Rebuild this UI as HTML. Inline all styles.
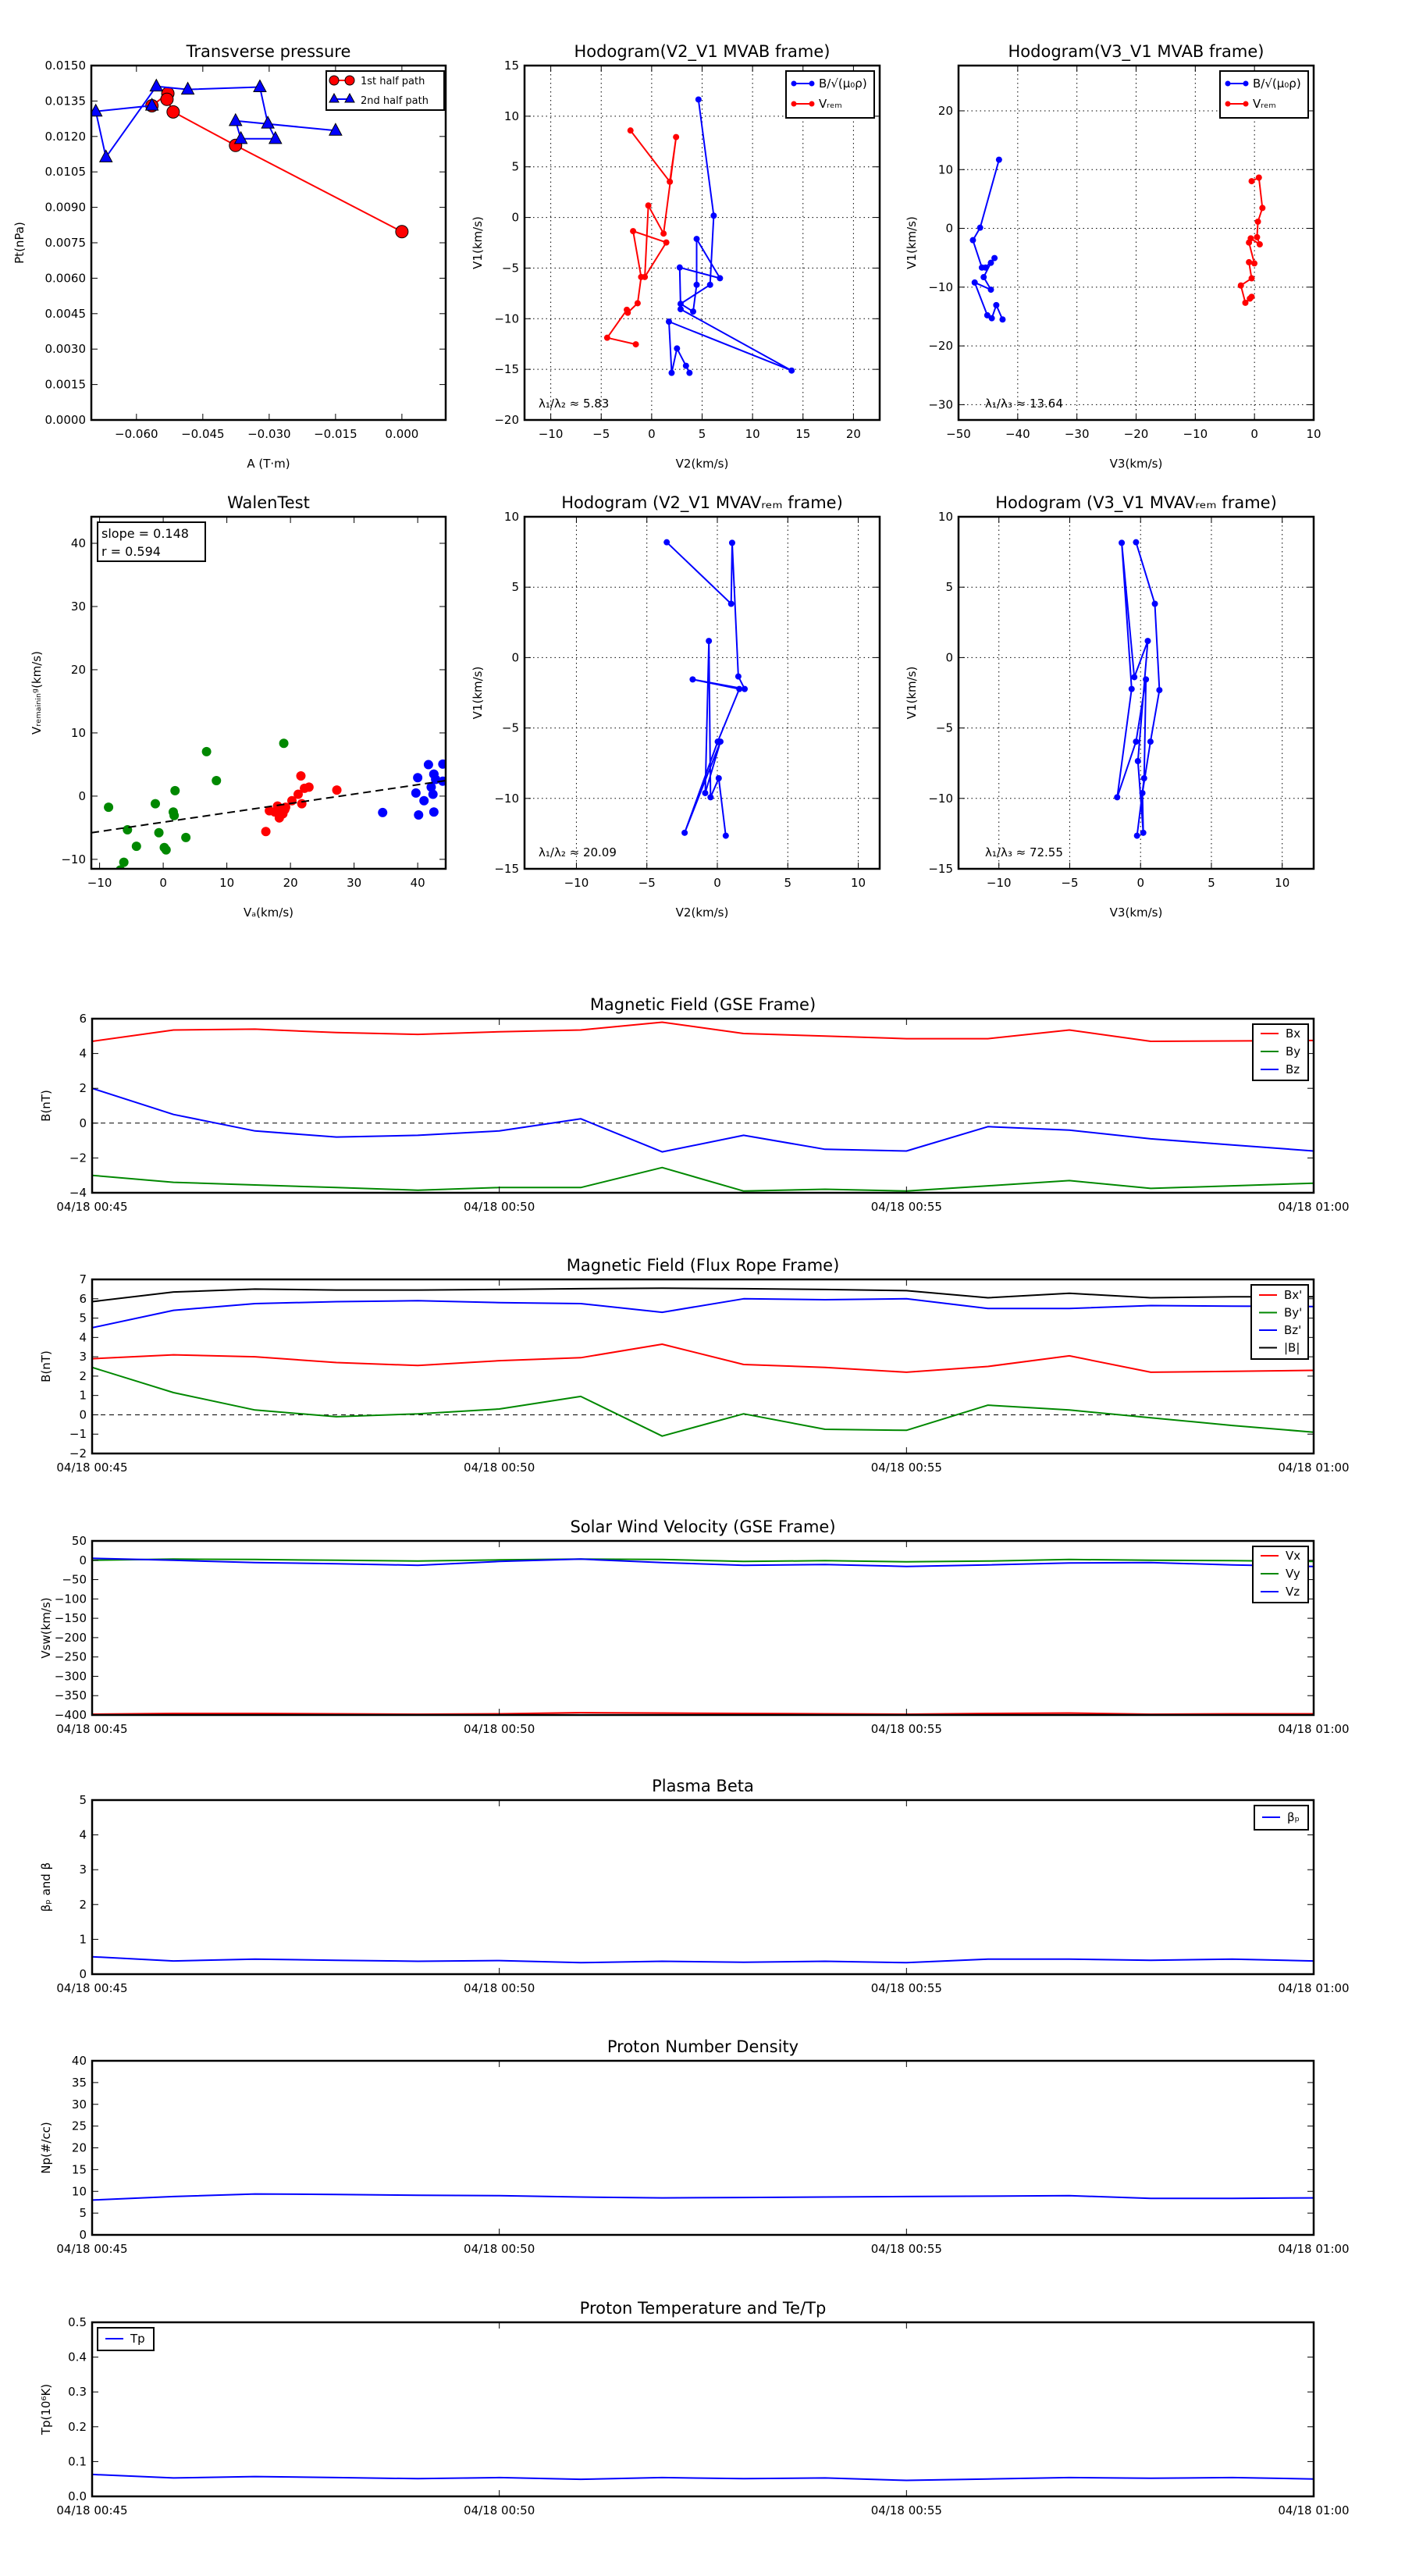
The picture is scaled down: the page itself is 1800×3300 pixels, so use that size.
<!DOCTYPE html>
<html><head><meta charset="utf-8"><title>Flux rope analysis</title>
<style>
html,body{margin:0;padding:0;background:#fff;}
svg{display:block;font-family:"DejaVu Sans","Liberation Sans",sans-serif;}
</style></head>
<body>
<svg id="fig" xmlns="http://www.w3.org/2000/svg" width="1800" height="3300" viewBox="0 0 1800 3300"></svg>
<script>
// ---------- Transverse pressure ----------
const tpRedA = [-0.0565,-0.0529,-0.0531,-0.0517,-0.0376,0.0];
const tpRedP = [0.0133,0.01382,0.01357,0.01304,0.01162,0.00797];
const tpBlueA = [-0.0565,-0.0692,-0.0669,-0.0555,-0.0484,-0.0321,-0.0303,-0.0286,-0.0364,-0.0376,-0.0150];
const tpBlueP = [0.01331,0.01306,0.01112,0.01412,0.01399,0.01409,0.01255,0.0119,0.0119,0.01266,0.01225];
// ---------- Hodogram V2_V1 MVAB ----------
const h1BlueX = [4.64,6.15,5.79,2.87,4.11,4.46,4.46,6.77,2.78,2.87,13.87,1.71,1.98,2.51,3.40,3.75];
const h1BlueY = [11.65,0.18,-6.65,-8.53,-9.29,-6.65,-2.12,-6.0,-4.94,-9.06,-15.12,-10.29,-15.35,-12.94,-14.65,-15.35];
const h1RedX = [-2.10,1.80,2.42,1.18,-0.33,-0.68,1.45,-1.84,-1.04,-1.39,-2.37,-2.46,-4.41,-1.57];
const h1RedY = [8.59,3.53,7.94,-1.59,1.18,-5.88,-2.47,-1.35,-5.88,-8.47,-9.41,-9.12,-11.88,-12.53];
// ---------- Hodogram V3_V1 MVAB ----------
const h2BlueX = [-43.16,-46.35,-47.57,-46.05,-45.44,-43.92,-44.53,-45.75,-44.53,-47.27,-45.14,-44.38,-43.62,-42.56];
const h2BlueY = [11.68,0.12,-2.01,-6.67,-6.67,-5.05,-5.86,-8.30,-10.43,-9.21,-14.79,-15.29,-13.06,-15.50];
const h2RedX = [-0.48,0.74,1.34,0.58,0.43,0.89,-0.63,-0.93,-0.02,-0.93,-0.48,-2.3,-1.54,-0.78,-0.48];
const h2RedY = [8.03,8.64,3.47,1.14,-1.50,-2.72,-1.70,-2.41,-5.96,-5.76,-8.50,-9.72,-12.66,-11.95,-11.64];
// ---------- Walen test ----------
const walenSlope = 0.148, walenIntercept = -4.12;
const wGreenX = [-8.59,-5.62,-4.21,-6.19,-6.75,-1.24,-0.68,0.17,0.45,1.86,1.58,1.72,3.56,6.81,8.36,18.95];
const wGreenY = [-1.76,-5.32,-7.94,-10.47,-11.69,-1.2,-5.79,-8.13,-8.5,0.86,-2.51,-3.07,-6.54,7.04,2.45,8.35];
const wRedX = [16.13,16.69,17.54,17.97,18.25,18.81,19.10,19.24,20.23,21.21,21.64,21.78,22.20,22.91,27.29,18.4];
const wRedY = [-5.6,-2.32,-2.51,-1.57,-3.45,-2.79,-2.13,-1.76,-0.73,0.30,3.2,-1.2,1.24,1.42,0.96,-2.79];
const wBlueX = [34.49,40.0,41.69,42.12,42.54,42.82,42.40,42.54,40.99,39.72,40.14,43.95,43.95,42.54];
const wBlueY = [-2.6,2.92,4.98,1.42,3.48,2.64,0.3,-2.51,-0.73,0.49,-2.98,5.07,2.36,3.48];
// ---------- Hodogram MVAV ----------
const h3X = [-3.59,0.98,1.05,1.49,1.94,-1.75,1.56,0.03,-2.32,0.22,-0.86,-0.60,-0.48,0.10,0.60];
const h3Y = [8.19,3.82,8.15,-1.34,-2.23,-1.55,-2.23,-5.97,-12.44,-5.97,-9.62,1.18,-9.92,-8.57,-12.65];
const h4X = [-0.32,1.01,1.33,0.70,0.13,0.19,-0.19,0.51,-0.44,-1.33,-0.63,-1.65,-0.32,0.38,0.25,-0.25];
const h4Y = [8.19,3.82,-2.31,-5.97,-9.62,-12.44,-7.35,1.18,-1.39,8.15,-2.23,-9.92,-5.97,-1.55,-8.57,-12.65];
// ---------- Time series (minutes after 00:45) ----------
const tMin = [0,1,2,3,4,5,6,7,8,9,10,11,12,13,14,15];
const timeTicks = [0,5,10,15];
const timeTickLabels = ["04/18 00:45","04/18 00:50","04/18 00:55","04/18 01:00"];
const gseBx = [4.7,5.35,5.4,5.2,5.1,5.25,5.35,5.8,5.15,5.0,4.85,4.85,5.35,4.7,4.72,4.75];
const gseBy = [-3.0,-3.4,-3.55,-3.7,-3.85,-3.7,-3.7,-2.55,-3.9,-3.8,-3.9,-3.6,-3.3,-3.75,-3.6,-3.45];
const gseBz = [2.0,0.5,-0.45,-0.8,-0.7,-0.45,0.25,-1.65,-0.7,-1.5,-1.6,-0.2,-0.4,-0.9,-1.25,-1.6];
const frBx = [2.9,3.1,3.0,2.7,2.55,2.8,2.95,3.65,2.6,2.45,2.2,2.5,3.05,2.2,2.25,2.3];
const frBy = [2.45,1.15,0.25,-0.1,0.05,0.3,0.95,-1.1,0.05,-0.75,-0.8,0.5,0.25,-0.15,-0.55,-0.9];
const frBz = [4.5,5.4,5.75,5.85,5.9,5.8,5.75,5.3,6.0,5.95,6.0,5.5,5.5,5.65,5.62,5.6];
const frBt = [5.85,6.35,6.5,6.45,6.45,6.48,6.52,6.55,6.52,6.48,6.42,6.05,6.28,6.05,6.1,6.1];
const vx = [-398,-396,-396,-397,-398,-397,-394,-395,-396,-397,-398,-396,-395,-398,-397,-397];
const vy = [0,3,2,0,-2,1,3,2,-3,-1,-4,-2,2,0,-1,-3];
const vz = [5,0,-6,-9,-13,-3,3,-6,-13,-11,-16,-12,-7,-6,-12,-16];
const betaP = [0.5,0.38,0.43,0.4,0.37,0.39,0.33,0.37,0.34,0.37,0.33,0.43,0.43,0.4,0.43,0.38];
const np = [8.0,8.8,9.4,9.3,9.1,9.0,8.7,8.5,8.6,8.7,8.8,8.9,9.0,8.4,8.4,8.5];
const tp = [0.063,0.053,0.057,0.054,0.051,0.054,0.049,0.054,0.051,0.053,0.046,0.05,0.054,0.052,0.054,0.05];

const NS = "http://www.w3.org/2000/svg";
const fig = document.getElementById('fig');
function mk(tag, attrs, name, parent) {
  const e = document.createElementNS(NS, tag);
  for (const k in attrs) e.setAttribute(k, attrs[k]);
  
  
  (parent || fig).appendChild(e);
  return e;
}
function txt(x, y, s, size, name, opts) {
  opts = opts || {};
  const t = mk('text', {x: x, y: y, 'font-size': size, 'text-anchor': opts.anchor || 'middle', fill: '#000'}, name, opts.parent);
  if (opts.rot) t.setAttribute('transform', 'rotate(-90 ' + x + ' ' + y + ')');
  t.textContent = s;
  return t;
}
function fmt(v, d) { const s = v.toFixed(d); return s.replace('-', '\u2212'); }

function axes(cfg) {
  const a = Object.assign({}, cfg);
  a.sx = v => a.x0 + (v - a.xmin) / (a.xmax - a.xmin) * (a.x1 - a.x0);
  a.sy = v => a.y1 - (v - a.ymin) / (a.ymax - a.ymin) * (a.y1 - a.y0);
  const g = mk('g', {}, a.name);
  a.g = g;
  const clipId = 'clip-' + a.name;
  const cp = mk('clipPath', {id: clipId}, a.name + '-clip', g);
  mk('rect', {x: a.x0, y: a.y0, width: a.x1 - a.x0, height: a.y1 - a.y0}, a.name + '-clip-rect', cp);
  a.plot = mk('g', {'clip-path': 'url(#' + clipId + ')'}, a.name + '-plot-area', g);
  if (a.grid) {
    a.xticks.forEach(v => mk('line', {x1: a.sx(v), x2: a.sx(v), y1: a.y0, y2: a.y1, stroke: '#000', 'stroke-width': 1, 'stroke-dasharray': '1.5,4'}, 'x-grid-line', a.plot));
    a.yticks.forEach(v => mk('line', {x1: a.x0, x2: a.x1, y1: a.sy(v), y2: a.sy(v), stroke: '#000', 'stroke-width': 1, 'stroke-dasharray': '1.5,4'}, 'y-grid-line', a.plot));
  }
  a.xticks.forEach((v, i) => {
    const x = a.sx(v);
    mk('line', {x1: x, x2: x, y1: a.y1, y2: a.y1 - 8, stroke: '#000', 'stroke-width': 1}, 'x-tick', g);
    mk('line', {x1: x, x2: x, y1: a.y0, y2: a.y0 + 8, stroke: '#000', 'stroke-width': 1}, 'x-tick-top', g);
    txt(x, a.y1 + 23, a.xlabels ? a.xlabels[i] : fmt(v, a.xd || 0), 15, 'x-tick-label', {parent: g});
  });
  a.yticks.forEach(v => {
    const y = a.sy(v);
    mk('line', {x1: a.x0, x2: a.x0 + 8, y1: y, y2: y, stroke: '#000', 'stroke-width': 1}, 'y-tick', g);
    mk('line', {x1: a.x1, x2: a.x1 - 8, y1: y, y2: y, stroke: '#000', 'stroke-width': 1}, 'y-tick-right', g);
    txt(a.x0 - 7, y + 5, fmt(v, a.yd || 0), 15, 'y-tick-label', {parent: g, anchor: 'end'});
  });
  txt((a.x0 + a.x1) / 2, a.y0 - 11, a.title, 21, 'chart-title', {parent: g});
  if (a.xlab) txt((a.x0 + a.x1) / 2, a.y1 + 61, a.xlab, 15, 'x-axis-title', {parent: g});
  if (a.ylab) txt(a.ylx, (a.y0 + a.y1) / 2, a.ylab, 15, 'y-axis-title', {parent: g, rot: true});
  return a;
}
function frame(a) {
  mk('rect', {x: a.x0, y: a.y0, width: a.x1 - a.x0, height: a.y1 - a.y0, fill: 'none', stroke: '#000', 'stroke-width': 2.5}, 'axes-frame', a.g);
}
function line(a, xs, ys, color, name, w) {
  const pts = xs.map((x, i) => a.sx(x).toFixed(1) + ',' + a.sy(ys[i]).toFixed(1)).join(' ');
  return mk('polyline', {points: pts, fill: 'none', stroke: color, 'stroke-width': w || 2, 'stroke-linejoin': 'round'}, name, a.plot);
}
function dots(a, xs, ys, color, r, name, stroke) {
  xs.forEach((x, i) => mk('circle', {cx: a.sx(x), cy: a.sy(ys[i]), r: r, fill: color, stroke: stroke || 'none', 'stroke-width': 1}, name, a.plot));
}
function tris(a, xs, ys, color, name) {
  xs.forEach((x, i) => {
    const cx = a.sx(x), cy = a.sy(ys[i]);
    mk('polygon', {points: (cx) + ',' + (cy - 9) + ' ' + (cx - 8) + ',' + (cy + 6) + ' ' + (cx + 8) + ',' + (cy + 6), fill: color, stroke: '#000', 'stroke-width': 1}, name, a.plot);
  });
}
function legendBox(x, y, w, h, entries, name, markers, start, dy) {
  const g = mk('g', {}, name);
  mk('rect', {x: x, y: y, width: w, height: h, fill: '#fff', stroke: '#000', 'stroke-width': 2}, 'legend-frame', g);
  entries.forEach((e, i) => {
    const yy = y + start + i * dy;
    mk('line', {x1: x + 10, x2: x + 33, y1: yy, y2: yy, stroke: e.c, 'stroke-width': 2}, 'legend-line', g);
    if (markers) {
      mk('circle', {cx: x + 10, cy: yy, r: 3.5, fill: e.c}, 'legend-marker', g);
      mk('circle', {cx: x + 33, cy: yy, r: 3.5, fill: e.c}, 'legend-marker', g);
    }
    txt(x + 42, yy + 5, e.t, 15, 'legend-label', {parent: g, anchor: 'start'});
  });
  return g;
}
function range(a, b, s) { const r = []; for (let v = a; v <= b + 1e-9; v += s) r.push(+v.toFixed(6)); return r; }

// ===== Row 1 =====
const ax1 = axes({name: 'transverse-pressure-chart', x0: 117, x1: 571, y0: 84, y1: 538, xmin: -0.0702, xmax: 0.0099, ymin: 0, ymax: 0.015,
  xticks: [-0.06,-0.045,-0.03,-0.015,0], xd: 3, yticks: range(0, 0.015, 0.0015), yd: 4,
  title: 'Transverse pressure', xlab: 'A (T\u00b7m)', ylab: 'Pt(nPa)', ylx: 30});
line(ax1, tpRedA, tpRedP, '#f00', 'first-half-path-line', 2);
dots(ax1, tpRedA, tpRedP, '#f00', 8, 'first-half-point', '#000');
line(ax1, tpBlueA, tpBlueP, '#00f', 'second-half-path-line', 2);
tris(ax1, tpBlueA, tpBlueP, '#00f', 'second-half-point');
frame(ax1);
{
  const g = mk('g', {}, 'transverse-legend');
  mk('rect', {x: 418, y: 91, width: 151, height: 50, fill: '#fff', stroke: '#000', 'stroke-width': 2}, 'legend-frame', g);
  mk('line', {x1: 426, x2: 450, y1: 103, y2: 103, stroke: '#f00', 'stroke-width': 2}, 'legend-line', g);
  mk('circle', {cx: 428, cy: 103, r: 6, fill: '#f00', stroke: '#000'}, 'legend-marker', g);
  mk('circle', {cx: 448, cy: 103, r: 6, fill: '#f00', stroke: '#000'}, 'legend-marker', g);
  txt(462, 108, '1st half path', 13, 'legend-label', {parent: g, anchor: 'start'});
  mk('line', {x1: 426, x2: 450, y1: 127, y2: 127, stroke: '#00f', 'stroke-width': 2}, 'legend-line', g);
  mk('polygon', {points: '428,120 422,131 434,131', fill: '#00f', stroke: '#000'}, 'legend-marker', g);
  mk('polygon', {points: '448,120 442,131 454,131', fill: '#00f', stroke: '#000'}, 'legend-marker', g);
  txt(462, 133, '2nd half path', 13, 'legend-label', {parent: g, anchor: 'start'});
}

const ax2 = axes({name: 'hodogram-v2-v1-mvab', x0: 672, x1: 1127, y0: 84, y1: 538, xmin: -12.6, xmax: 22.6, ymin: -20, ymax: 15,
  xticks: range(-10, 20, 5), yticks: range(-20, 15, 5), grid: true,
  title: 'Hodogram(V2_V1 MVAB frame)', xlab: 'V2(km/s)', ylab: 'V1(km/s)', ylx: 617});
line(ax2, h1BlueX, h1BlueY, '#00f', 'b-alfven-hodogram-line', 2);
dots(ax2, h1BlueX, h1BlueY, '#00f', 4, 'b-alfven-point');
line(ax2, h1RedX, h1RedY, '#f00', 'v-remaining-hodogram-line', 2);
dots(ax2, h1RedX, h1RedY, '#f00', 4, 'v-remaining-point');
frame(ax2);
legendBox(1007, 91, 113, 60, [{t: 'B/\u221a(\u03bc\u2080\u03c1)', c: '#00f'}, {t: 'V\u1d63\u2091\u2098', c: '#f00'}], 'hodogram-legend', true, 16, 26);
txt(690, 522, '\u03bb\u2081/\u03bb\u2082 \u2248 5.83', 15, 'eigenvalue-ratio-label', {anchor: 'start'});

const ax3 = axes({name: 'hodogram-v3-v1-mvab', x0: 1228, x1: 1683, y0: 84, y1: 538, xmin: -50, xmax: 10, ymin: -32.6, ymax: 27.7,
  xticks: range(-50, 10, 10), yticks: range(-30, 20, 10), grid: true,
  title: 'Hodogram(V3_V1 MVAB frame)', xlab: 'V3(km/s)', ylab: 'V1(km/s)', ylx: 1173});
line(ax3, h2BlueX, h2BlueY, '#00f', 'b-alfven-hodogram-line', 2);
dots(ax3, h2BlueX, h2BlueY, '#00f', 4, 'b-alfven-point');
line(ax3, h2RedX, h2RedY, '#f00', 'v-remaining-hodogram-line', 2);
dots(ax3, h2RedX, h2RedY, '#f00', 4, 'v-remaining-point');
frame(ax3);
legendBox(1563, 91, 113, 60, [{t: 'B/\u221a(\u03bc\u2080\u03c1)', c: '#00f'}, {t: 'V\u1d63\u2091\u2098', c: '#f00'}], 'hodogram-legend', true, 16, 26);
txt(1262, 522, '\u03bb\u2081/\u03bb\u2083 \u2248 13.64', 15, 'eigenvalue-ratio-label', {anchor: 'start'});

// ===== Row 2 =====
const ax4 = axes({name: 'walen-test-chart', x0: 117, x1: 571, y0: 662, y1: 1113, xmin: -11.3, xmax: 44.4, ymin: -11.5, ymax: 44.2,
  xticks: range(-10, 40, 10), yticks: range(-10, 40, 10),
  title: 'WalenTest', xlab: 'V\u2090(km/s)', ylab: 'V\u1d63\u2091\u2098\u2090\u1d62\u2099\u1d62\u2099\u1d4d(km/s)', ylx: 52});
dots(ax4, wGreenX, wGreenY, '#080', 6, 'walen-green-point');
dots(ax4, wRedX, wRedY, '#f00', 6, 'walen-red-point');
dots(ax4, wBlueX, wBlueY, '#00f', 6, 'walen-blue-point');
const fitLine = line(ax4, [ax4.xmin, ax4.xmax], [walenSlope * ax4.xmin + walenIntercept, walenSlope * ax4.xmax + walenIntercept], '#000', 'walen-fit-line', 2);
fitLine.setAttribute('stroke-dasharray', '10,6');
frame(ax4);
{
  const g = mk('g', {}, 'walen-stats-box');
  mk('rect', {x: 125, y: 669, width: 138, height: 50, fill: '#fff', stroke: '#000', 'stroke-width': 2}, 'stats-frame', g);
  txt(130, 689, 'slope = 0.148', 16, 'slope-label', {parent: g, anchor: 'start'});
  txt(130, 712, 'r = 0.594', 16, 'r-label', {parent: g, anchor: 'start'});
}

const ax5 = axes({name: 'hodogram-v2-v1-mvav', x0: 672, x1: 1127, y0: 662, y1: 1113, xmin: -13.68, xmax: 11.52, ymin: -15, ymax: 10,
  xticks: range(-10, 10, 5), yticks: range(-15, 10, 5), grid: true,
  title: 'Hodogram (V2_V1 MVAV\u1d63\u2091\u2098 frame)', xlab: 'V2(km/s)', ylab: 'V1(km/s)', ylx: 617});
line(ax5, h3X, h3Y, '#00f', 'hodogram-line', 2);
dots(ax5, h3X, h3Y, '#00f', 4, 'hodogram-point');
frame(ax5);
txt(690, 1097, '\u03bb\u2081/\u03bb\u2082 \u2248 20.09', 15, 'eigenvalue-ratio-label', {anchor: 'start'});

const ax6 = axes({name: 'hodogram-v3-v1-mvav', x0: 1228, x1: 1683, y0: 662, y1: 1113, xmin: -12.85, xmax: 12.22, ymin: -15, ymax: 10,
  xticks: range(-10, 10, 5), yticks: range(-15, 10, 5), grid: true,
  title: 'Hodogram (V3_V1 MVAV\u1d63\u2091\u2098 frame)', xlab: 'V3(km/s)', ylab: 'V1(km/s)', ylx: 1173});
line(ax6, h4X, h4Y, '#00f', 'hodogram-line', 2);
dots(ax6, h4X, h4Y, '#00f', 4, 'hodogram-point');
frame(ax6);
txt(1262, 1097, '\u03bb\u2081/\u03bb\u2083 \u2248 72.55', 15, 'eigenvalue-ratio-label', {anchor: 'start'});

// ===== Time series =====
function ts(name, y0, ymin, ymax, yticks, yd, title, ylab) {
  return axes({name: name, x0: 118, x1: 1683, y0: y0, y1: y0 + 223, xmin: 0, xmax: 15, ymin: ymin, ymax: ymax,
    xticks: timeTicks, xlabels: timeTickLabels, yticks: yticks, yd: yd, title: title, ylab: ylab, ylx: 64});
}
function zero(a) {
  mk('line', {x1: a.x0, x2: a.x1, y1: a.sy(0), y2: a.sy(0), stroke: '#000', 'stroke-width': 1, 'stroke-dasharray': '6,5'}, 'zero-line', a.plot);
}
const t1 = ts('magnetic-field-gse-chart', 1305, -4, 6, range(-4, 6, 2), 0, 'Magnetic Field (GSE Frame)', 'B(nT)');
zero(t1);
line(t1, tMin, gseBx, '#f00', 'bx-line'); line(t1, tMin, gseBy, '#080', 'by-line'); line(t1, tMin, gseBz, '#00f', 'bz-line');
frame(t1);
legendBox(1605, 1312, 71, 72, [{t: 'Bx', c: '#f00'}, {t: 'By', c: '#080'}, {t: 'Bz', c: '#00f'}], 'gse-legend', false, 12, 23);

const t2 = ts('magnetic-field-flux-rope-chart', 1639, -2, 7, range(-2, 7, 1), 0, 'Magnetic Field (Flux Rope Frame)', 'B(nT)');
zero(t2);
line(t2, tMin, frBx, '#f00', 'bx-prime-line'); line(t2, tMin, frBy, '#080', 'by-prime-line');
line(t2, tMin, frBz, '#00f', 'bz-prime-line'); line(t2, tMin, frBt, '#000', 'btotal-line');
frame(t2);
legendBox(1603, 1646, 73, 95, [{t: "Bx'", c: '#f00'}, {t: "By'", c: '#080'}, {t: "Bz'", c: '#00f'}, {t: '|B|', c: '#000'}], 'flux-rope-legend', false, 13, 22.5);

const t3 = ts('solar-wind-velocity-chart', 1974, -400, 50, range(-400, 50, 50), 0, 'Solar Wind Velocity (GSE Frame)', 'Vsw(km/s)');
line(t3, tMin, vx, '#f00', 'vx-line'); line(t3, tMin, vy, '#080', 'vy-line'); line(t3, tMin, vz, '#00f', 'vz-line');
frame(t3);
legendBox(1605, 1981, 71, 72, [{t: 'Vx', c: '#f00'}, {t: 'Vy', c: '#080'}, {t: 'Vz', c: '#00f'}], 'velocity-legend', false, 12, 23);

const t4 = ts('plasma-beta-chart', 2306, 0, 5, range(0, 5, 1), 0, 'Plasma Beta', '\u03b2\u209a and \u03b2');
line(t4, tMin, betaP, '#00f', 'beta-p-line');
frame(t4);
legendBox(1607, 2313, 69, 31, [{t: '\u03b2\u209a', c: '#00f'}], 'beta-legend', false, 15, 0);

const t5 = ts('proton-density-chart', 2640, 0, 40, range(0, 40, 5), 0, 'Proton Number Density', 'Np(#/cc)');
line(t5, tMin, np, '#00f', 'np-line');
frame(t5);

const t6 = ts('proton-temperature-chart', 2975, 0, 0.5, range(0, 0.5, 0.1), 1, 'Proton Temperature and Te/Tp', 'Tp(10\u2076K)');
line(t6, tMin, tp, '#00f', 'tp-line');
frame(t6);
legendBox(125, 2982, 72, 29, [{t: 'Tp', c: '#00f'}], 'tp-legend', false, 14, 0);
</script>
</body></html>
